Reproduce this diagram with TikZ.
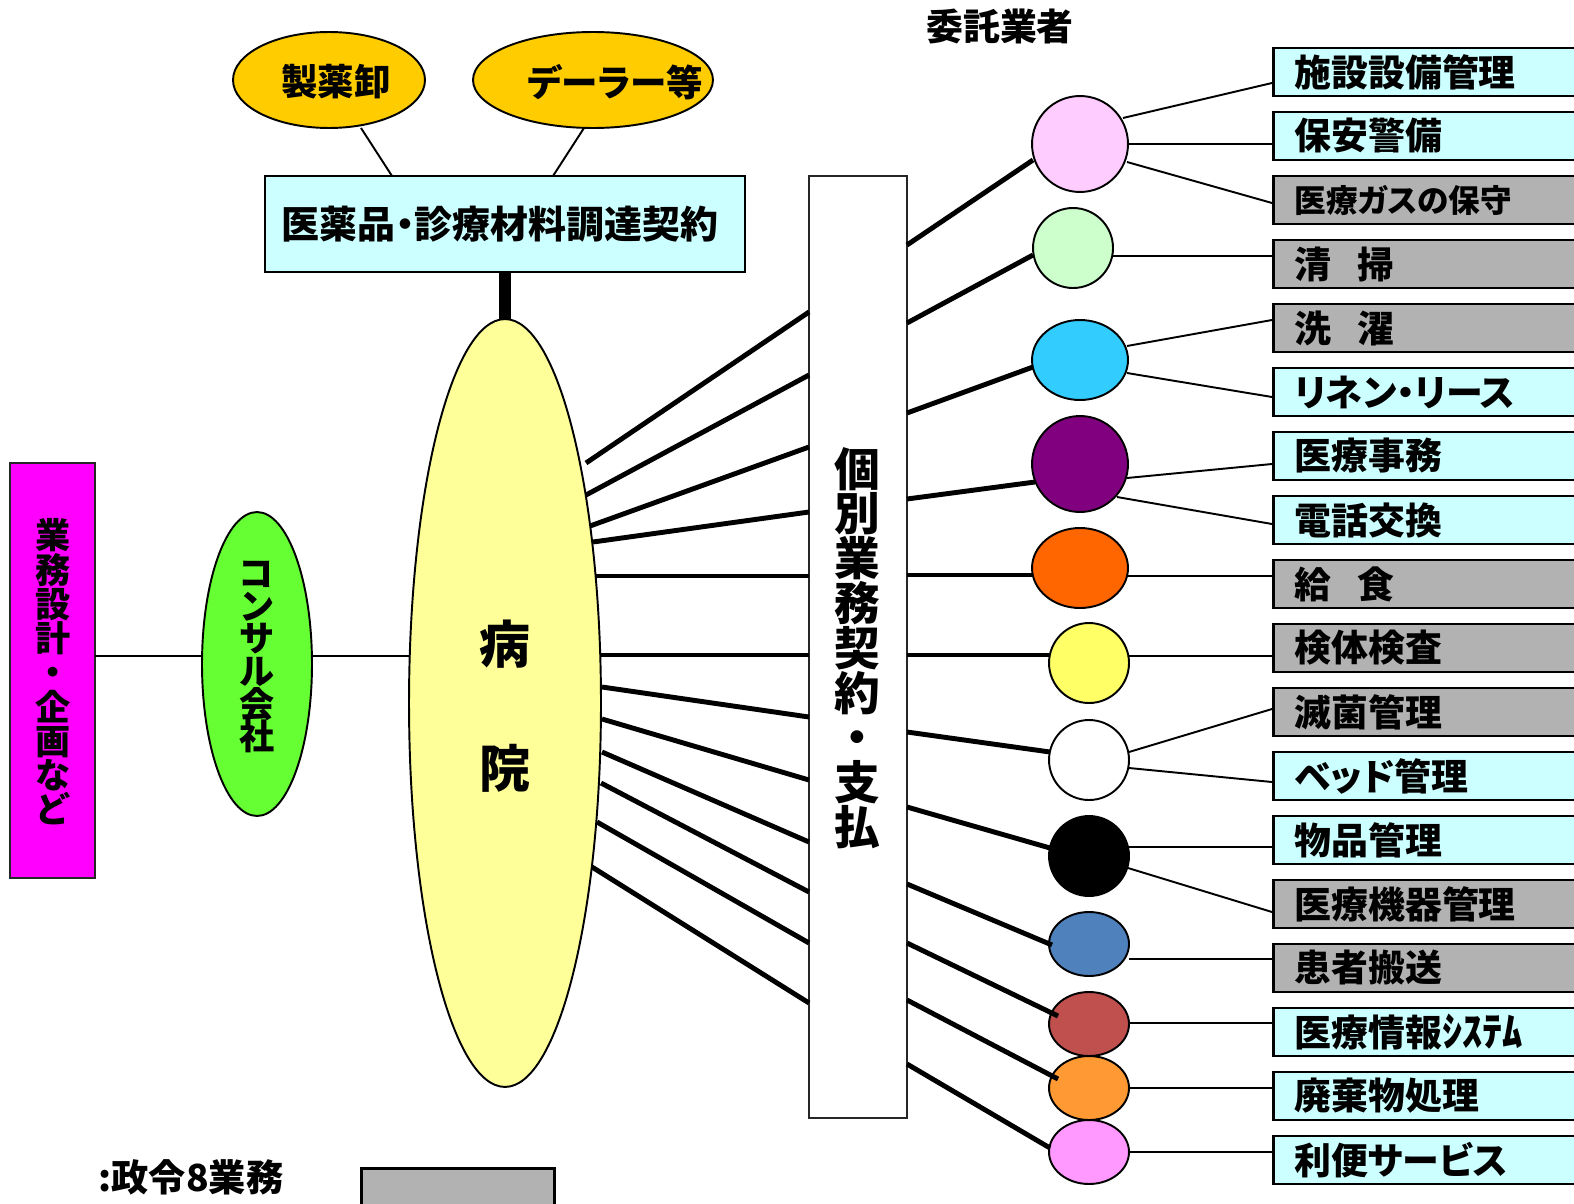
\documentclass[tikz,border=0pt]{standalone}
\usepackage{fontspec}
\setmainfont{Noto Sans CJK JP}[RawFeature=+palt]
\usetikzlibrary{shapes.geometric}
\definecolor{magC}{HTML}{FF00FF}
\definecolor{grnC}{HTML}{66FF33}
\definecolor{hosC}{HTML}{FFFF99}
\definecolor{goldC}{HTML}{FFCC00}
\definecolor{lcyC}{HTML}{CCFFFF}
\definecolor{gryC}{HTML}{B2B2B2}
\definecolor{cA}{HTML}{FFCCFF}
\definecolor{cB}{HTML}{CCFFCC}
\definecolor{cC}{HTML}{33CCFF}
\definecolor{cD}{HTML}{800080}
\definecolor{cE}{HTML}{FF6600}
\definecolor{cF}{HTML}{FFFF66}
\definecolor{cG}{HTML}{FFFFFF}
\definecolor{cH}{HTML}{000000}
\definecolor{cI}{HTML}{4F81BD}
\definecolor{cJ}{HTML}{C0504D}
\definecolor{cK}{HTML}{FF9933}
\definecolor{cL}{HTML}{FF99FF}
\newcommand\jfs[2]{\fontsize{#1}{#2}\selectfont\bfseries\lineskiplimit=-60pt\relax}
\begin{document}
\begin{tikzpicture}[x=0.02cm,y=-0.02cm,
  ov/.style={ellipse, draw, line width=1.1pt, inner sep=0pt, outer sep=0pt},
  bx/.style={rectangle, draw, line width=1.1pt, inner sep=0pt, outer sep=0pt},
  conthin/.style={line width=1.1pt},
  conthick/.style={line width=2.8pt},
  txt/.style={inner sep=0pt, align=center},
  svcbox/.style={rectangle, draw, line width=1.6pt, anchor=west, minimum width=6.36cm,
     minimum height=0.96cm, inner xsep=0.42cm, inner ysep=0pt, text width=5.52cm, align=left}
]
\useasboundingbox (0,0) rectangle (1574,1203);
\fill[white] (0,0) rectangle (1574,1203);
\clip (0,0) rectangle (1574,1203);

% ---------- left part
\node[bx, draw=black!85, fill=magC, minimum width=1.7cm, minimum height=8.3cm] (plan) at (52.5,670.5) {};
\node[txt, font=\jfs{20}{19.5}] (plantxt) at (53,672) {業\\務\\設\\計\\・\\企\\画\\な\\ど};
\node[ov, fill=grnC, minimum width=2.2cm, minimum height=6.08cm] (consul) at (257,664) {};
\node[txt, font=\jfs{20}{18.6}] (consultxt) at (257,657) {コ\\ン\\サ\\ル\\会\\社};
\node[ov, fill=hosC, minimum width=3.84cm, minimum height=15.36cm] (hosp) at (505,703) {};
\node[txt, font=\jfs{29}{30}] (hos1) at (505,644) {病};
\node[txt, font=\jfs{29}{30}] (hos2) at (505,768) {院};

\draw[conthin] (plan.east |- 0,656) -- (consul.west |- 0,656);
\draw[conthin] (consul.east |- 0,656) -- (hosp.west |- 0,656);

% ---------- procurement
\node[bx, fill=lcyC, minimum width=9.6cm, minimum height=1.92cm] (proc) at (505,224) {};
\node[txt, font=\jfs{21.6}{23}] (proctxt) at (500,224) {医薬品・診療材料調達契約};
\node[ov, fill=goldC, minimum width=3.84cm, minimum height=1.92cm] (whole) at (329,80) {};
\node[txt, font=\jfs{20.8}{22}] (wholetxt) at (336,82) {製薬卸};
\node[ov, fill=goldC, minimum width=4.8cm, minimum height=1.92cm] (dealer) at (593,80) {};
\node[txt, font=\jfs{20.8}{22}] (dealertxt) at (615,82) {デーラー等};
\draw[conthin] (361,128) -- (392,176);
\draw[conthin] (584,128) -- (553,176);
\draw[line width=6.4pt] (proc.south) -- (hosp.north);

% ---------- middle contract box
\node[bx, draw=black!85, fill=white, minimum width=1.96cm, minimum height=18.84cm] (mid) at (858,647) {};
\node[txt, font=\jfs{26}{25.5}] (midtxt) at (857,648) {個\\別\\業\\務\\契\\約\\・\\支\\払};

\foreach \xa/\ya/\yb in {586/463/312, 586/495/375, 590/526/447, 593/542/512, 595/576/576,
    600/655/655, 602/687/717, 602/719/780, 602/752/842, 601/783/892, 597/822/943, 592/867/1003}
  \draw[conthick] (\xa,\ya) -- (mid.west |- 0,\yb);

% ---------- contractors
\node[txt, font=\jfs{21}{23}] (itaku) at (1000,26) {委託業者};

\node[ov, fill=cA, minimum width=1.92cm, minimum height=1.92cm] (c1) at (1080,144) {};
\node[ov, fill=cB, minimum width=1.6cm, minimum height=1.6cm] (c2) at (1073,248) {};
\node[ov, fill=cC, minimum width=1.92cm, minimum height=1.6cm] (c3) at (1080,360) {};
\node[ov, fill=cD, minimum width=1.92cm, minimum height=1.92cm] (c4) at (1080,464) {};
\node[ov, fill=cE, minimum width=1.92cm, minimum height=1.6cm] (c5) at (1080,568) {};
\node[ov, fill=cF, minimum width=1.6cm, minimum height=1.6cm] (c6) at (1089,663) {};
\node[ov, fill=cG, minimum width=1.6cm, minimum height=1.6cm] (c7) at (1089,760) {};
\node[ov, fill=cH, minimum width=1.6cm, minimum height=1.6cm] (c8) at (1089,856) {};
\node[ov, fill=cI, minimum width=1.6cm, minimum height=1.28cm] (c9) at (1089,944) {};
\node[ov, fill=cJ, minimum width=1.6cm, minimum height=1.28cm] (c10) at (1089,1024) {};
\node[ov, fill=cK, minimum width=1.6cm, minimum height=1.28cm] (c11) at (1089,1088) {};
\node[ov, fill=cL, minimum width=1.6cm, minimum height=1.28cm] (c12) at (1089,1152) {};

\foreach \ya/\xb/\yb in {245/1033/160, 323/1033/255, 413/1033/367, 499/1035/482, 575/1033/575,
    655/1049/655, 732/1050/752, 807/1050/848, 884/1052/945, 943/1058/1016, 1000/1058/1079, 1064/1050/1148}
  \draw[conthick] (mid.east |- 0,\ya) -- (\xb,\yb);

% service boxes
\foreach \idx/\lab/\col/\fsz in {
   0/施設設備管理/lcyC/21, 1/保安警備/lcyC/21, 2/医療ガスの保守/gryC/18,
   3/{清\hspace{15pt}掃}/gryC/21, 4/{洗\hspace{15pt}濯}/gryC/21, 5/リネン・リース/lcyC/21,
   6/医療事務/lcyC/21, 7/電話交換/lcyC/21, 8/{給\hspace{15pt}食}/gryC/21,
   9/検体検査/gryC/21, 10/滅菌管理/gryC/21, 11/ベッド管理/lcyC/21,
   12/物品管理/lcyC/21, 13/医療機器管理/gryC/21, 14/患者搬送/gryC/21,
   15/{医療情報\fontsize{23}{24}\selectfont ｼｽﾃﾑ}/lcyC/21, 16/廃棄物処理/lcyC/21, 17/利便サービス/lcyC/21}
  \node[svcbox, fill=\col, font=\jfs{\fsz}{24}] (b\idx) at (1272,{72+64*\idx}) {\lab};

% circle-to-box connectors
\draw[conthin] (1123,118) -- (b0.west |- 0,83);
\draw[conthin] (1128,144) -- (b1.west |- 0,144);
\draw[conthin] (1127,162) -- (b2.west |- 0,203);
\draw[conthin] (1113,256) -- (b3.west |- 0,256);
\draw[conthin] (1127,346) -- (b4.west |- 0,320);
\draw[conthin] (1127,373) -- (b5.west |- 0,397);
\draw[conthin] (1127,478) -- (b6.west |- 0,464);
\draw[conthin] (1117,497) -- (b7.west |- 0,524);
\draw[conthin] (1128,576) -- (b8.west |- 0,576);
\draw[conthin] (1129,656) -- (b9.west |- 0,656);
\draw[conthin] (1129,752) -- (b10.west |- 0,709);
\draw[conthin] (1129,768) -- (b11.west |- 0,782);
\draw[conthin] (1129,847) -- (b12.west |- 0,847);
\draw[conthin] (1128,868) -- (b13.west |- 0,912);
\draw[conthin] (1129,959) -- (b14.west |- 0,959);
\draw[conthin] (1129,1023) -- (b15.west |- 0,1023);
\draw[conthin] (1129,1088) -- (b16.west |- 0,1088);
\draw[conthin] (1129,1152) -- (b17.west |- 0,1152);

% ---------- legend
\node[txt, font=\jfs{21.2}{22}] (legtxt) at (191,1177) {:政令8業務};
\node[rectangle, draw, line width=1.6pt, fill=gryC, anchor=north west, minimum width=3.86cm,
      minimum height=1.2cm, inner sep=0pt] (legbox) at (360,1167) {};
\end{tikzpicture}
\end{document}
